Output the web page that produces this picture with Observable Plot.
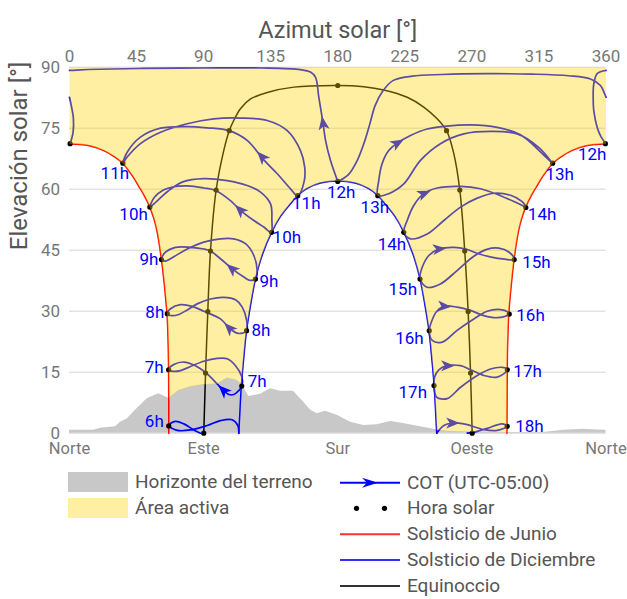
<!DOCTYPE html>
<html><head><meta charset="utf-8">
<script src="https://cdn.jsdelivr.net/npm/d3@7"></script>
<script src="https://cdn.jsdelivr.net/npm/@observablehq/plot@0.6"></script>
<style>
body{margin:0;background:#fff;font-family:Roboto,sans-serif;}
#wrap{position:relative;width:627px;height:599px;overflow:hidden;background:#fff;}
.lg{position:absolute;font-size:19px;color:#555;line-height:22px;white-space:nowrap;}
.sw{position:absolute;width:60px;height:20px;}
</style></head><body><div id="wrap"></div>
<script>
// ---------- DATA ----------
const azTicks = [0,45,90,135,180,225,270,315,360];
const elTicks = [0,15,30,45,60,75,90];
const dirNames = ["Norte","Este","Sur","Oeste","Norte"];
const dirAz = [0,90,180,270,360];

// terrain horizon
const hzAz = [0,16.3,20.8,30.9,34.2,38.7,43.1,52.1,59.9,66.6,73.3,81.2,90.1,99.1,105.8,112.5,115.9,118.8,120.3,128.2,134.9,141.6,150.3,157.2,161.7,166.2,171.8,179.6,188.6,197.5,206.5,215.4,222.1,231,240,246.7,255.6,275.8,293.9,318,331.5,344.9,354.3,360];
const hzEl = [0.7,0.7,1.2,1.6,2.7,3.5,5.2,8.5,9.7,8.6,10.5,11.4,12,12.1,13.6,13,12,10,9,9.6,10.9,10.3,10.3,7.6,5.7,4.8,5.4,4.4,2.7,1.9,2.1,2.9,2.5,1.9,1.3,0.8,0.4,0.3,0.2,0.2,0.7,1,0.8,0.7];

// June solstice (left and right branches, bottom -> top)
const junLAz = [66.6,66.6,66.5,66.2,65.5,64.8,63.5,61.7,58.8,56.9,53.9,49.9,46.7,43.1,40,35.8,29.7,23,14.1,7,0];
const junLEl = [0,8,15.4,22,29,32,37,42.7,49.5,52.4,55.6,58.6,60.6,62.8,64.4,66.4,68.1,69.5,70.6,71,71.2];
const junRAz = [293.5,293.6,293.7,294,294.7,295.3,296.6,298.3,301.2,303.1,306.1,310.1,313.3,316.9,320,324.2,330.3,337,345.9,353,360];
const junREl = [0,8,15.4,22,29,32,37,42.7,49.5,52.4,55.6,58.6,60.6,62.8,64.4,66.4,68.1,69.5,70.6,71,71.2];
// December solstice
const decAz = [113.6,114.3,115.3,116.8,118.8,121.5,124.8,129.5,135.6,141.6,148.3,153,159.5,168.4,180,191.6,200.5,207,211.7,218.4,224.4,230.5,235.2,238.5,241.2,243.2,244.7,245.7,246.4];
const decEl = [0,5,11.6,18,25.2,31.5,37.9,44,49.4,53.3,56.4,58.4,60.2,61.5,62,61.5,60.2,58.4,56.4,53.3,49.4,44,37.9,31.5,25.2,18,11.6,5,0];
// Equinox
const eqAz = [90.1,91.3,92.8,94.6,98.4,103.5,107.2,110.2,114.7,121.5,132.7,150.5,180,197.5,210.9,226.6,237.7,246.7,253,257.9,261.9,265.2,267.5,269.1,270.2];
const eqEl = [0,14.8,29.9,44.8,59.8,69.5,74.4,76.9,79.8,82.2,83.8,85.1,85.5,85.2,84.4,82.6,80.2,77.3,74.4,68.7,59.8,44.8,29.9,14.8,0];

// solar-hour dots
const junHours = ["6h","7h","8h","9h","10h","11h","12h","13h","14h","15h","16h","17h","18h"];
const junDotAz = [66.6,66.5,65.6,61.7,53.9,35.8,359.6,324.2,306.2,298.4,295.1,293.8,293.7];
const junDotEl = [1.8,15.6,29.4,42.7,55.6,66.4,71.2,66.4,55.5,42.7,29.3,15.6,1.7];
const edgeDotAz = [0.4];
const edgeDotEl = [71.2];
const decHours = ["7h","8h","9h","10h","11h","12h","13h","14h","15h","16h","17h"];
const decDotAz = [115.6,118.8,124.8,135.6,153.1,180,206.9,224.3,235.2,241.4,244.6];
const decDotEl = [11.6,25.2,37.9,49.4,58.4,61.9,58.4,49.4,37.9,25.2,11.7];
const eqDotAz = [90.1,91.3,92.8,94.6,98.4,107.2,180,253,261.9,265.2,267.5,269.1,270.2];
const eqDotEl = [0,14.8,29.9,44.8,59.8,74.4,85.5,74.4,59.8,44.8,29.9,14.8,0];

// analemmas, COT clock hours ([azimuth, elevation])
const an06 = [[87.9,0],[83.4,0.8],[76.7,2.3],[71,2.9],[66.6,1.9],[72.3,0.7],[81.2,0.8],[92.4,1.9],[101.3,3.1],[109.2,3.3],[112.9,1.9],[113.6,0]];
const an07 = [[66.2,15.6],[70,16.9],[76.7,17.5],[84.5,16.6],[92.4,14.6],[99.1,12.1],[103.5,10.5],[106.9,9.5],[110.2,9.5],[113.6,10.5],[115.9,11.7],[115.5,14],[111.4,16.6],[105.8,18.3],[99.1,18.4],[90.1,17.7],[81.2,16.4],[74.5,15.4],[70,15.2]];
const an08 = [[65.6,29.4],[67.8,30.6],[74.5,31.6],[82.3,31.2],[90.1,30],[101.3,28.1],[107.4,25.8],[112.5,24.6],[116,24.6],[118.8,25.1],[118.9,27.7],[115.9,31],[111.4,32.8],[103.5,33.4],[94.6,33],[85.7,31.8],[79,30.3],[73.3,29.2],[68.9,28.9]];
const an09 = [[61.7,42.7],[64.4,44.5],[71.1,45.7],[81.2,45.7],[90.1,45.3],[94.6,44.8],[101.3,42.9],[109.2,40.4],[117,38.4],[121,37.6],[124.8,37.9],[125.9,40],[123.7,43.7],[118.1,46.6],[110.2,47.8],[101.3,47.8],[90.1,47],[79,45.3],[70,43.4],[64.4,42.3]];
const an10 = [[53.9,55.6],[57,58],[63,59.8],[70,60.6],[79,60.8],[90.1,60.3],[98,59.7],[108,57.2],[114.7,54.8],[123.7,52.3],[130.4,50.7],[135.3,49.4],[135.8,52.5],[134.9,56.4],[128.2,59.3],[119.2,60.9],[105.8,62.1],[90.1,62.6],[76,61.8],[66,59.5],[58.5,57]];
const an11 = [[35.8,66.4],[38.7,69.1],[47.6,72.8],[61.1,75],[79,75.4],[92.4,75.1],[106.9,74.4],[119.2,72],[130.4,67.2],[139.4,63.8],[148.3,60.1],[153.1,58.4],[157.5,62],[157.8,65.5],[155,69.5],[146.1,74.4],[132.7,76.9],[114.7,77.5],[96.8,77.3],[79,76.1],[61.1,74],[47.6,71.2],[38.7,67.9]];
const an12a = [[180,61.9],[175.1,67.1],[171.8,72],[170.2,76.1],[167.3,82.6],[165.1,87.5],[161.7,88.8],[155,89.4],[128.2,89.8],[90,89.8],[50,89.7],[20,89.5],[5,89.3],[0,89.2]];
const an12b = [[360,89.2],[354.1,88.4],[351.8,85.9],[351.4,82.6],[351.8,79.3],[354.1,75.2],[356.8,72.8],[359.7,71.3]];
const an12c = [[180,61.9],[187,63.5],[193,67],[197.5,71.2],[201.5,76],[205,80.5],[210,84],[217,86.7],[230,87.8],[250,88.2],[280,88.4],[310,88.3],[335,87.9],[349.6,87.1],[356.3,85.5],[359,83.5],[360,82.6]];
const an12d = [[0,82.6],[1.5,80],[2.6,77.5],[2.4,74],[0.5,71.3]];
const an13 = [[323.9,66.4],[316,69.2],[302.6,73.4],[287,75.2],[269.1,75.8],[253,75.5],[240,74.8],[228.8,73.2],[219.9,71.3],[214.2,69.5],[209.7,66.2],[207.5,62.1],[206.9,58.4],[214.2,58.9],[224.3,61.3],[235.5,67.1],[248.9,71.2],[264.6,73.6],[282.5,74.2],[300.4,73.6],[315,70.2]];
const an14 = [[306.4,55.6],[300.4,56.6],[289.2,58.4],[275.8,60.1],[262.4,60.7],[246.7,60.3],[237.7,58.9],[231,56],[226.6,52.3],[224.3,49.4],[228.8,47.8],[240,49],[251.2,52.3],[262.4,55.6],[273.6,57.8],[284.7,59],[296,58.5],[303.5,57]];
const an15 = [[298.8,42.7],[292,42.8],[283,43.3],[274,44.2],[266,45.3],[257.9,45.7],[247.8,45.3],[241.1,43.7],[236.7,40.8],[235.2,37.9],[240,35.9],[248.9,36.7],[260.1,40],[271.3,43.5],[280,45.2],[288,45.5],[295,44.5]];
const an16 = [[294.8,29.2],[287,28.4],[278,28.9],[269.1,30.2],[260.1,31],[251.2,31.2],[246.1,29.8],[243.2,27.7],[241.4,25.2],[243.4,22.8],[250.1,22.4],[260.1,25.3],[271.3,28.1],[280.3,30],[289.2,30.4],[293.8,29.9]];
const an17 = [[293.7,15.4],[287,13.8],[278,14.2],[269.1,15.6],[262.4,16.6],[253.4,16.6],[247.8,15.6],[245,13.8],[244.6,11.7],[246.3,8.9],[253.4,8.5],[262.4,11.3],[273.6,14.2],[282.5,15.8],[290.3,16.2],[293.3,15.9]];
const an18 = [[246.4,0],[247.8,0.7],[251.2,1.9],[256.8,2.5],[261,2.5],[266.9,2.1],[278,0.9],[287,0.7],[293.7,1.7],[290.3,2.3],[280.3,1.2],[272,0.3],[266.9,0]];

// direction arrows on the COT analemmas: [az, el, towardAz, towardEl]
const arrowsAt = [[103.5,10.5,99.1,12.1],[107.4,25.8,101.3,28.1],[109.2,40.4,101.3,42.9],[114.7,54.8,108,57.2],[129.3,67.9,119.2,72],[170.2,76.1,167.3,82.6],[219.9,71.3,228.8,73.2],[237.7,58.9,246.7,60.3],[247.8,45.3,257.9,45.7],[251.2,31.2,260.1,31],[253.4,16.6,262.4,16.6],[256.8,2.5,261,2.5]];

// ---------- STYLE / LAYOUT ----------
const W = 627, H = 462, ML = 69, MR = 21.5, MT = 66.7, MB = 29.3;
const kx = (W - ML - MR) / 360, ky = (H - MT - MB) / 90;
const BLUE = "#0000ff", RED = "#ff0000";
// label placement [anchor, dx px, dy px]
const junLabelPos = [["end",-5,-4],["end",-5,-2],["end",-3,-1],["end",-3,0],["end",-2,7],["middle",-8,10.5],["end",1,11],["middle",7,11.5],["start",2,7],["start",8,2.5],["start",7,2],["start",6,2],["start",8,0]];
const decLabelPos = [["start",6,-4],["start",5,0],["start",4,2],["start",1,5.5],["start",-5.6,7.6],["middle",3.5,11],["middle",-3,12],["end",2.4,12],["end",-3,10],["end",-5.6,8],["end",-7,6.5]];

// ---------- BUILD ----------
const pts = (A, E) => A.map((a, i) => ({az: a, el: E[i]}));
const hzPts = pts(hzAz, hzEl);
function hz(a) {
  for (let i = 1; i < hzAz.length; i++) if (a <= hzAz[i]) {
    const t = (a - hzAz[i-1]) / (hzAz[i] - hzAz[i-1]);
    return hzEl[i-1] + t * (hzEl[i] - hzEl[i-1]);
  }
  return hzEl[hzEl.length - 1];
}
function clipAbove(P) { // P ordered starting below horizon
  let i = P.findIndex(p => p.el >= hz(p.az));
  if (i <= 0) return P.slice();
  const p0 = P[i-1], p1 = P[i];
  const f0 = p0.el - hz(p0.az), f1 = p1.el - hz(p1.az);
  const t = f0 / (f0 - f1);
  return [{az: p0.az + t*(p1.az-p0.az), el: p0.el + t*(p1.el-p0.el)}, ...P.slice(i)];
}
const junL = pts(junLAz, junLEl), junR = pts(junRAz, junREl), dec = pts(decAz, decEl), eq = pts(eqAz, eqEl);
const L = clipAbove(junL), R = clipAbove(junR);
const dome = clipAbove(clipAbove(dec).reverse()).reverse();
const hzBetween = (a0, a1) => hzPts.filter(p => p.az > a0 && p.az < a1).reverse();
const activePoly = [
  {az:0, el:90}, {az:360, el:90},
  ...R.slice().reverse(),
  ...hzBetween(dome[dome.length-1].az, R[0].az),
  ...dome.slice().reverse(),
  ...hzBetween(L[0].az, dome[0].az),
  ...L
];

const loops = [["07",an07],["08",an08],["09",an09],["10",an10],["11",an11],["13",an13],["14",an14],["15",an15],["16",an16],["17",an17]]
  .flatMap(([id, P]) => P.map(([az, el]) => ({az, el, id})));
const opens = [["06",an06],["12a",an12a],["12b",an12b],["12c",an12c],["12d",an12d],["18",an18]]
  .flatMap(([id, P]) => P.map(([az, el]) => ({az, el, id})));

const arrows = arrowsAt.map(([a, e, a2, e2]) => ({az: a, el: e,
  rot: Math.atan2(-(e2 - e) * ky, (a2 - a) * kx) * 180 / Math.PI}));
const stealth = {draw(ctx) { ctx.moveTo(7.5,0); ctx.lineTo(-6,-5.5); ctx.lineTo(-2.5,0); ctx.lineTo(-6,5.5); ctx.closePath(); }};

const junDots = pts(junDotAz, junDotEl).map((d, i) => ({...d, h: junHours[i], pos: junLabelPos[i]}));
const decDots = pts(decDotAz, decDotEl).map((d, i) => ({...d, h: decHours[i], pos: decLabelPos[i]}));
const labels = [...junDots, ...decDots].map(d => ({
  az: d.az + d.pos[1] / kx, el: d.el - d.pos[2] / ky, h: d.h, anchor: d.pos[0]}));
const labelMark = anchor => Plot.text(labels.filter(d => d.anchor === anchor),
  {x: "az", y: "el", text: "h", textAnchor: anchor, fill: BLUE, fontSize: 17});

const plot = Plot.plot({
  width: W, height: H, marginLeft: ML, marginRight: MR, marginTop: MT, marginBottom: MB,
  x: {domain: [0, 360]}, y: {domain: [0, 90]},
  style: {fontFamily: "Roboto, sans-serif", fontSize: "17px", color: "#777", background: "white", overflow: "visible"},
  marks: [
    Plot.ruleY(elTicks, {stroke: "#d6d6d6", strokeWidth: 1}),
    Plot.areaY(hzPts, {x: "az", y: "el", fill: "#c8c8c8", curve: "linear"}),
    Plot.line(eq, {x: "az", y: "el", stroke: "#000", strokeWidth: 1.5, curve: "catmull-rom"}),
    Plot.line(junL, {x: "az", y: "el", stroke: RED, strokeWidth: 1.5, curve: "catmull-rom"}),
    Plot.line(junR, {x: "az", y: "el", stroke: RED, strokeWidth: 1.5, curve: "catmull-rom"}),
    Plot.line(dec, {x: "az", y: "el", stroke: BLUE, strokeWidth: 1.5, curve: "catmull-rom"}),
    Plot.line(loops, {x: "az", y: "el", z: "id", stroke: BLUE, strokeWidth: 1.7, curve: "catmull-rom-closed"}),
    Plot.line(opens, {x: "az", y: "el", z: "id", stroke: BLUE, strokeWidth: 1.7, curve: "catmull-rom"}),
    Plot.dot(arrows, {x: "az", y: "el", rotate: "rot", symbol: stealth, fill: BLUE, stroke: "none", r: 6}),
    Plot.dot(pts(eqDotAz, eqDotEl), {x: "az", y: "el", r: 2.6, fill: "#000"}),
    Plot.dot(junDots, {x: "az", y: "el", r: 2.6, fill: "#000"}),
    Plot.dot(pts(edgeDotAz, edgeDotEl), {x: "az", y: "el", r: 2.6, fill: "#000"}),
    Plot.dot(decDots, {x: "az", y: "el", r: 2.6, fill: "#000"}),
    Plot.line(activePoly, {x: "az", y: "el", fill: "#ffd400", fillOpacity: 0.36, stroke: "none", curve: "linear"}),
    labelMark("start"), labelMark("middle"), labelMark("end"),
    Plot.axisX({anchor: "top", ticks: azTicks, tickSize: 0, tickPadding: 5, label: null, fontSize: 17}),
    Plot.axisY({anchor: "left", ticks: elTicks, tickSize: 0, tickPadding: 9.5, label: null, fontSize: 17}),
    Plot.text(dirNames, {x: (d, i) => dirAz[i], frameAnchor: "bottom", dy: 20.5, text: d => d, fontSize: 16.5, fill: "#777"}),
    Plot.text(["Azimut solar [°]"], {frameAnchor: "top", dy: -45.5, text: d => d, fontSize: 23.5, fill: "#555"}),
    Plot.text(["Elevación solar [°]"], {frameAnchor: "left", dx: -50, rotate: -90, text: d => d, fontSize: 24, fill: "#555"})
  ]
});

const wrap = document.getElementById("wrap");
plot.style.position = "absolute"; plot.style.left = "0"; plot.style.top = "0";
wrap.appendChild(plot);

// legend
const legendLeft = [["Horizonte del terreno", "#c8c8c8", 472], ["Área activa", "rgba(255,212,0,0.36)", 498]];
for (const [t, c, y] of legendLeft) {
  const s = document.createElement("div"); s.className = "sw";
  s.style.left = "68px"; s.style.top = y + "px"; s.style.background = c; wrap.appendChild(s);
  const l = document.createElement("div"); l.className = "lg"; l.textContent = t;
  l.style.left = "135px"; l.style.top = (y - 1) + "px"; wrap.appendChild(l);
}
const legendRight = ["COT (UTC-05:00)", "Hora solar", "Solsticio de Junio", "Solsticio de Diciembre", "Equinoccio"];
const rowY = [482.7, 508.3, 534.3, 560, 586];
const ns = "http://www.w3.org/2000/svg";
const lsvg = document.createElementNS(ns, "svg");
lsvg.setAttribute("width", 627); lsvg.setAttribute("height", 599);
lsvg.style.position = "absolute"; lsvg.style.left = "0"; lsvg.style.top = "0"; lsvg.style.pointerEvents = "none";
function el(tag, attrs) { const e = document.createElementNS(ns, tag); for (const k in attrs) e.setAttribute(k, attrs[k]); lsvg.appendChild(e); return e; }
el("line", {x1: 340, x2: 400, y1: rowY[0], y2: rowY[0], stroke: BLUE, "stroke-width": 2});
el("path", {d: `M${378},${rowY[0]} L${362},${rowY[0]-5} L${367},${rowY[0]} L${362},${rowY[0]+5} Z`, fill: BLUE});
el("circle", {cx: 356.5, cy: rowY[1], r: 2.6, fill: "#000"});
el("circle", {cx: 384.5, cy: rowY[1], r: 2.6, fill: "#000"});
el("line", {x1: 340, x2: 400, y1: rowY[2], y2: rowY[2], stroke: "#ff3030", "stroke-width": 2});
el("line", {x1: 340, x2: 400, y1: rowY[3], y2: rowY[3], stroke: "#3030ff", "stroke-width": 2});
el("line", {x1: 340, x2: 400, y1: rowY[4], y2: rowY[4], stroke: "#333", "stroke-width": 2});
wrap.appendChild(lsvg);
legendRight.forEach((t, i) => {
  const l = document.createElement("div"); l.className = "lg"; l.textContent = t;
  l.style.left = "407px"; l.style.top = (rowY[i] - 11) + "px"; wrap.appendChild(l);
});
</script></body></html>
